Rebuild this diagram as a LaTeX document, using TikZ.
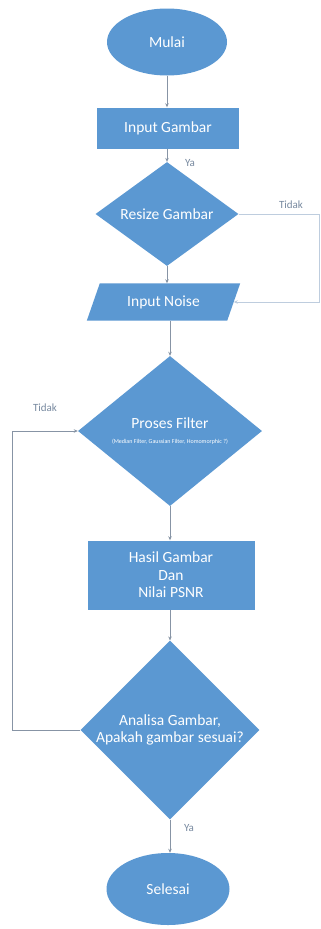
\documentclass[tikz,border=0pt]{standalone}
\usepackage{fontspec}
\setmainfont{Carlito}
\usetikzlibrary{shapes.geometric,arrows.meta}
\definecolor{fblue}{RGB}{91,152,210}
\definecolor{lgrey}{RGB}{135,148,165}
\definecolor{faint}{RGB}{190,205,222}
\definecolor{lblue}{RGB}{120,138,160}
\begin{document}
\begin{tikzpicture}[x=1pt,y=-1pt,
 mainfont/.style={font=\fontsize{15.5}{17.5}\selectfont},
 term/.style={ellipse, fill=fblue, text=white, mainfont, inner sep=0},
 proc/.style={rectangle, fill=fblue, text=white, mainfont, align=center, inner sep=0},
 dec/.style={diamond, fill=fblue, text=white, mainfont, align=center, inner sep=0},
 io/.style={rectangle, text=white, mainfont, inner sep=0},
 conn/.style={draw=lgrey, line width=0.7pt, -{Stealth[length=4pt,width=3.5pt]}},
 lab/.style={text=lblue, font=\fontsize{11}{13}\selectfont}
]
\useasboundingbox[fill=white] (0,0) rectangle (321,929);
\node[term, minimum width=120, minimum height=67] (mulai) at (167,42) {Mulai};
\node[proc, minimum width=142, minimum height=41] (input) at (168,128) {Input Gambar};
\node[dec, minimum width=143, minimum height=72] (resize) at (167,214) {Resize Gambar};
\node[io, minimum width=140, minimum height=37] (noise) at (163.5,302) {};
\fill[fblue] ([xshift=6.5pt]noise.north west) -- ([xshift=6.5pt]noise.north east)
  -- ([xshift=-6.5pt]noise.south east) -- ([xshift=-6.5pt]noise.south west) -- cycle;
\node[io] (noisetext) at (noise.center) {Input Noise};
\node[dec, minimum width=184, minimum height=150] (filter) at (170,431) {Proses Filter\\[-3pt]{\fontsize{6}{7}\selectfont (Median Filter, Gaussian Filter, Homomorphic ?)}};
\node[proc, minimum width=167, minimum height=69] (hasil) at (171,575) {Hasil Gambar\\Dan\\Nilai PSNR};
\node[dec, minimum width=176, minimum height=150] (analisa) at (170,730) {Analisa Gambar,\\Apakah gambar sesuai?};
\node[term, minimum width=123, minimum height=72] (selesai) at (168,889) {Selesai};

\coordinate (rc) at (319,214);
\coordinate (lc) at (12,730);

\draw[conn] (mulai.south) -- (mulai.south |- input.north);
\draw[conn] (resize.north |- input.south) -- (resize.north);
\draw[conn] (resize.south) -- (resize.south |- noise.north);
\draw[conn] (filter.north |- noise.south) -- (filter.north);
\draw[conn] (filter.south) -- (filter.south |- hasil.north);
\draw[conn] (analisa.north |- hasil.south) -- (analisa.north);
\draw[conn] (analisa.south) -- (analisa.south |- selesai.north);
\draw[conn, draw=faint] (resize.east) -- (rc) |- (noise.east);
\draw[conn] (analisa.west) -- (lc) |- (filter.west);

\node[lab] (ya1) at (190,163) {Ya};
\node[lab] (tidak1) at (291,205) {Tidak};
\node[lab] (tidak2) at (45,408) {Tidak};
\node[lab] (ya2) at (189,828) {Ya};
\end{tikzpicture}
\end{document}
